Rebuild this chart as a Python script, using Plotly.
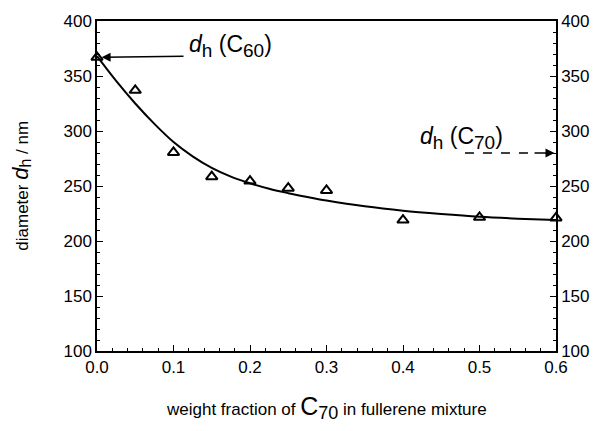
import plotly.graph_objects as go

# measured points
frac = [0.0, 0.05, 0.10, 0.15, 0.20, 0.25, 0.30, 0.40, 0.50, 0.60]
diam = [367, 337, 280.5, 258.5, 254.5, 248, 246, 219, 221.5, 221]

# fitted curve
fit_x = [0.0, 0.025, 0.05, 0.075, 0.10, 0.125, 0.15, 0.175, 0.20, 0.225, 0.25, 0.275, 0.30,
         0.35, 0.40, 0.45, 0.50, 0.55, 0.60]
fit_y = [368, 345.5, 325, 306.5, 290, 277, 266.5, 258.5, 252.5, 247.5, 243.5, 240, 236.8,
         231.5, 227.5, 224.5, 222, 220.3, 219]

FONT = "Liberation Sans, Arial, sans-serif"

fig = go.Figure()
fig.add_trace(go.Scatter(x=fit_x, y=fit_y, mode="lines",
                         line=dict(color="black", width=2, shape="spline", smoothing=1.0),
                         showlegend=False, hoverinfo="skip"))
fig.add_trace(go.Scatter(x=frac, y=diam, mode="markers",
                         marker=dict(symbol="triangle-up-open", size=10, color="black", line=dict(width=2, color="black")),
                         showlegend=False, cliponaxis=False))
# invisible trace to activate right axis
fig.add_trace(go.Scatter(x=[0], y=[100], yaxis="y2", mode="markers", marker=dict(opacity=0),
                         showlegend=False, hoverinfo="skip"))

axis_common = dict(showgrid=False, zeroline=False, linecolor="black", linewidth=1.5, ticks="inside",
                   tickcolor="black", tickwidth=1.2, ticklen=6,
                   tickfont=dict(family=FONT, size=17, color="black"))

fig.update_layout(
    width=602, height=431, plot_bgcolor="white", paper_bgcolor="white",
    margin=dict(l=97, r=43, t=21, b=80),
    xaxis=dict(range=[0, 0.6], dtick=0.1, tickformat=".1f", mirror=True, showline=True,
               minor=dict(ticks="inside", dtick=0.02, ticklen=3, tickcolor="black"), **axis_common),
    yaxis=dict(range=[100, 400], dtick=50, showline=True,
               minor=dict(ticks="inside", dtick=10, ticklen=3, tickcolor="black"), **axis_common),
    yaxis2=dict(range=[100, 400], dtick=50, overlaying="y", side="right", showline=True,
                minor=dict(ticks="inside", dtick=10, ticklen=3, tickcolor="black"), **axis_common),
)

# axis titles
fig.add_annotation(xref="paper", yref="paper", x=0.5, y=-0.17, yanchor="middle", showarrow=False,
                   text="weight fraction of <span style='font-size:25px'>C</span>"
                        "<sub><span style='font-size:18px'>70</span></sub> in fullerene mixture",
                   font=dict(family=FONT, size=17, color="black"))
fig.add_annotation(xref="paper", yref="paper", x=-0.2, y=0.5, textangle=-90, showarrow=False,
                   text="diameter <i style='font-size:22px'>d</i>"
                        "<sub><span style='font-size:16px'>h</span></sub> / nm",
                   font=dict(family=FONT, size=17, color="black"))

# C60 label and arrow
fig.add_annotation(x=0.118, y=377, xanchor="left", yanchor="middle", showarrow=False,
                   text="<i>d</i><sub><span style='font-size:19px'>h</span></sub> (C"
                        "<sub><span style='font-size:19px'>60</span></sub>)",
                   font=dict(family=FONT, size=23, color="black"))
fig.add_annotation(x=0.006, y=367, ax=0.115, ay=368, axref="x", ayref="y", showarrow=True,
                   arrowhead=2, arrowsize=1.2, arrowwidth=1.5, arrowcolor="black", text="")

# C70 label and dashed arrow
fig.add_annotation(x=0.42, y=294, xanchor="left", yanchor="middle", showarrow=False,
                   text="<i>d</i><sub><span style='font-size:19px'>h</span></sub> (C"
                        "<sub><span style='font-size:19px'>70</span></sub>)",
                   font=dict(family=FONT, size=23, color="black"))
fig.add_shape(type="line", x0=0.481, x1=0.57, y0=280, y1=280, line=dict(color="black", width=1.5, dash="dash"))
fig.add_annotation(x=0.598, y=280, ax=0.57, ay=280, axref="x", ayref="y", showarrow=True,
                   arrowhead=2, arrowsize=1.2, arrowwidth=1.5, arrowcolor="black", text="")

fig.write_html("out.html")
